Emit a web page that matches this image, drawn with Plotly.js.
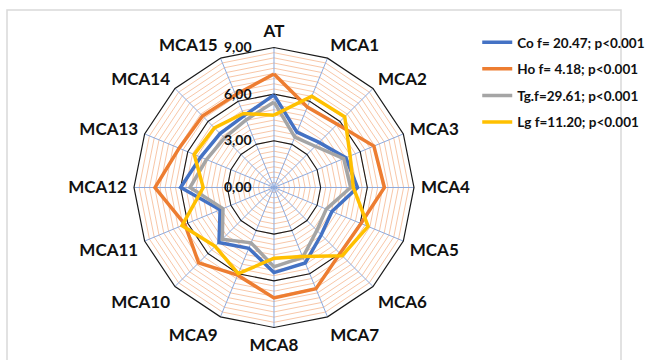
<!DOCTYPE html>
<html>
<head>
<meta charset="utf-8">
<script src="https://cdn.plot.ly/plotly-3.0.1.min.js"></script>
<style>
  html, body { margin: 0; padding: 0; background: #ffffff; }
  #chart { width: 661px; height: 360px; }
</style>
</head>
<body>
<div id="chart"></div>
<script>
// Axes of the radar: overall score and the fifteen MCA dimensions
const categories = ['AT', 'MCA1', 'MCA2', 'MCA3', 'MCA4', 'MCA5', 'MCA6', 'MCA7',
                    'MCA8', 'MCA9', 'MCA10', 'MCA11', 'MCA12', 'MCA13', 'MCA14', 'MCA15'];

// Group means per dimension
const coValues = [5.95, 3.85, 4.10, 5.00, 5.37, 4.03, 4.30, 5.25, 5.47, 4.23, 5.00, 3.75, 6.00, 5.10, 4.90, 5.00];
const hoValues = [7.30, 5.60, 5.75, 6.95, 7.10, 6.05, 6.00, 7.05, 7.10, 6.10, 6.85, 6.20, 7.65, 6.60, 6.50, 6.45];
const tgValues = [5.50, 3.50, 3.75, 4.85, 4.93, 3.64, 3.90, 4.85, 5.10, 3.85, 4.70, 3.55, 5.40, 4.70, 4.50, 4.70];
const lgValues = [4.65, 6.35, 6.43, 5.30, 5.10, 6.55, 6.20, 4.80, 4.55, 6.00, 5.35, 6.40, 4.55, 5.55, 5.42, 5.15];

// Legend labels with the ANOVA statistic of each group
const seriesNames = ['Co f= 20.47; p<0.001', 'Ho f= 4.18; p<0.001', 'Tg.f=29.61; p<0.001', 'Lg f=11.20; p<0.001'];

// Radial scale
const radialMax = 9;
const majorStep = 3;
const minorStep = 1 / 3;

const seriesColors = ['#4472C4', '#ED7D31', '#A5A5A5', '#FFC000'];
const seriesValues = [coValues, hoValues, tgValues, lgValues];

const close = arr => arr.concat([arr[0]]);
const thetaClosed = close(categories);

const traces = [];

// Invisible carrier for the background polar (fine orange rings)
traces.push({
  type: 'scatterpolar', subplot: 'polar',
  r: close(coValues), theta: thetaClosed,
  mode: 'lines', line: { color: 'rgba(0,0,0,0)', width: 0 },
  showlegend: false, hoverinfo: 'skip'
});

seriesValues.forEach((vals, i) => {
  traces.push({
    type: 'scatterpolar', subplot: 'polar2',
    r: close(vals), theta: thetaClosed,
    mode: 'lines', name: seriesNames[i],
    legendgroup: 'g' + i,
    line: { color: seriesColors[i], width: 3.5 },
    hoverinfo: 'r+theta'
  });
});

const domain = { x: [0.2027, 0.6263], y: [0.0903, 0.8681] };
const textFamily = 'Lato, "Open Sans", sans-serif';

const layout = {
  width: 661, height: 360,
  margin: { l: 0, r: 0, t: 0, b: 0 },
  paper_bgcolor: '#ffffff',
  separators: ',.',
  showlegend: true,
  legend: {
    x: 0.722, y: 0.925, xanchor: 'left', yanchor: 'top',
    font: { family: textFamily, size: 13.5, color: '#111111', weight: 'bold' },
    tracegroupgap: 6, itemwidth: 30, bgcolor: 'rgba(0,0,0,0)'
  },
  polar: {
    domain: domain,
    bgcolor: '#ffffff',
    gridshape: 'linear',
    radialaxis: {
      range: [0, radialMax], dtick: minorStep, tick0: 0,
      showticklabels: false, ticks: '', showline: false,
      gridcolor: '#F8C7A8', gridwidth: 1
    },
    angularaxis: {
      direction: 'clockwise', rotation: 90,
      showgrid: false, showline: false, showticklabels: false, ticks: ''
    }
  },
  polar2: {
    domain: domain,
    bgcolor: 'rgba(0,0,0,0)',
    gridshape: 'linear',
    radialaxis: {
      range: [0, radialMax], dtick: majorStep, tick0: 0,
      tickformat: '.2f', angle: 90, tickangle: 90, side: 'counterclockwise',
      ticks: 'outside', ticklen: 17, tickcolor: 'rgba(0,0,0,0)', showline: false,
      gridcolor: '#1a1a1a', gridwidth: 1.1,
      tickfont: { family: textFamily, size: 14, color: '#111111', weight: 'bold' }
    },
    angularaxis: {
      direction: 'clockwise', rotation: 90,
      gridcolor: '#8FAADC', gridwidth: 1,
      linecolor: '#1a1a1a', linewidth: 1.2, showline: true,
      ticks: 'outside', ticklen: 3, tickcolor: 'rgba(0,0,0,0)',
      tickfont: { family: textFamily, size: 17, color: '#111111', weight: 'bold' }
    }
  },
  shapes: [{
    type: 'rect', xref: 'paper', yref: 'paper',
    x0: 7 / 661, x1: 621 / 661, y0: -0.05, y1: 1 - 10 / 360,
    line: { color: '#D9D9D9', width: 1.5 }, fillcolor: 'rgba(0,0,0,0)'
  }]
};

Plotly.newPlot('chart', traces, layout, { displayModeBar: false, staticPlot: true });
</script>
</body>
</html>
